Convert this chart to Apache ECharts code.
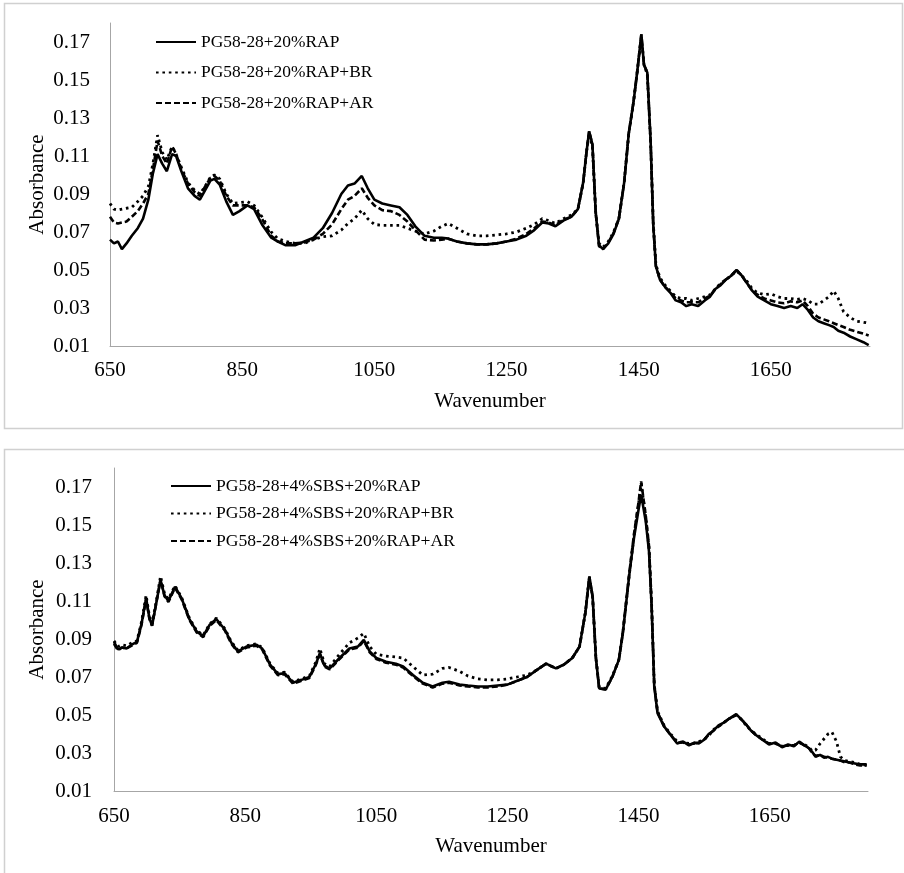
<!DOCTYPE html>
<html>
<head>
<meta charset="utf-8">
<script src="https://cdn.jsdelivr.net/npm/echarts@6/dist/echarts.min.js"></script>
<style>
  html, body { margin: 0; padding: 0; background: #fff; }
  #main { width: 904px; height: 873px; }
</style>
</head>
<body>
<div id="main"></div>
<script>
// top panel: PG58-28 + 20% RAP
var topWave = [
  650, 656, 662, 668, 675, 683, 692, 700, 708, 715,
  722, 729, 736, 744, 750, 758, 768, 778, 786, 794,
  802, 808, 816, 826, 836, 846, 858, 868, 880, 894,
  904, 916, 930, 944, 958, 972, 986, 1000, 1010, 1020,
  1031, 1040, 1050, 1062, 1075, 1088, 1100, 1112, 1126, 1140,
  1152, 1162, 1175, 1190, 1205, 1220, 1235, 1250, 1265, 1280,
  1292, 1304, 1314, 1324, 1336, 1348, 1358, 1366, 1371, 1375,
  1380, 1385, 1390, 1396, 1404, 1412, 1420, 1428, 1435, 1442,
  1448, 1454, 1458, 1463, 1468, 1472, 1476, 1482, 1490, 1498,
  1506, 1514, 1522, 1530, 1540, 1550, 1558, 1566, 1574, 1582,
  1590, 1598, 1606, 1614, 1622, 1630, 1640, 1650, 1660, 1670,
  1680, 1690, 1698, 1706, 1714, 1722, 1730, 1738, 1745, 1752,
  1760, 1770, 1780, 1790, 1798
];
var topRap = [
  .066,.064,.065,.061,.064,.068,.072,.077,.087,.101,
  .111,.106,.102,.111,.110,.102,.093,.089,.087,.092,
  .097,.098,.095,.086,.079,.081,.084,.082,.074,.067,
  .065,.063,.063,.065,.067,.072,.080,.090,.0945,.0955,
  .0995,.093,.087,.085,.084,.083,.079,.073,.068,.067,
  .067,.0665,.065,.064,.0635,.0635,.064,.065,.066,.068,
  .071,.075,.0745,.073,.076,.078,.082,.096,.112,.123,
  .116,.080,.063,.061,.064,.069,.077,.096,.122,.138,
  .155,.174,.158,.154,.118,.074,.052,.045,.041,.038,
  .034,.033,.031,.032,.031,.034,.036,.040,.042,.045,
  .047,.050,.047,.043,.039,.036,.034,.032,.031,.030,
  .031,.030,.032,.029,.025,.023,.022,.021,.020,.018,
  .017,.015,.0135,.012,.0105
];
var topRapBR = [
  .085,.082,.0815,.082,.0825,.083,.086,.089,.094,.106,
  .121,.112,.108,.115,.111,.104,.096,.092,.090,.094,
  .099,.100,.098,.090,.085,.0855,.086,.084,.078,.070,
  .0665,.065,.064,.064,.066,.0675,.068,.071,.0745,.077,
  .0815,.077,.074,.0735,.0735,.0735,.072,.0705,.069,.0705,
  .073,.0745,.072,.069,.068,.068,.0685,.069,.070,.072,
  .074,.077,.076,.0745,.077,.079,.082,.096,.112,.122,
  .115,.080,.064,.062,.065,.070,.077,.096,.122,.138,
  .155,.173,.158,.153,.118,.075,.053,.046,.042,.039,
  .036,.035,.035,.034,.035,.036,.037,.040,.043,.045,
  .047,.0495,.047,.044,.040,.038,.037,.0375,.036,.035,
  .035,.0345,.035,.034,.032,.032,.034,.036,.039,.035,
  .028,.025,.023,.0225,.022
];
var topRapAR = [
  .078,.075,.0745,.075,.0755,.078,.081,.085,.090,.103,
  .118,.110,.106,.115,.111,.103,.0955,.091,.089,.094,
  .0985,.0995,.097,.089,.084,.084,.084,.083,.077,.068,
  .065,.064,.064,.0645,.066,.069,.074,.082,.087,.089,
  .093,.088,.084,.0815,.081,.079,.0755,.071,.066,.0655,
  .066,.0665,.065,.064,.0635,.0635,.064,.065,.0665,.069,
  .072,.0755,.075,.0735,.0765,.078,.082,.096,.112,.123,
  .116,.080,.0625,.061,.0645,.0695,.077,.096,.122,.138,
  .155,.174,.158,.154,.118,.074,.052,.045,.041,.0385,
  .035,.034,.033,.033,.033,.035,.0365,.040,.0425,.045,
  .047,.050,.047,.043,.039,.037,.035,.034,.033,.0325,
  .0335,.033,.034,.031,.027,.025,.024,.023,.022,.021,
  .020,.0185,.0175,.0165,.0155
];

// bottom panel: PG58-28 + 4% SBS + 20% RAP
var botWave = [
  650, 656, 662, 669, 677, 685, 692, 699, 704, 708,
  714, 721, 727, 733, 743, 753, 765, 776, 786, 796,
  806, 819, 829, 839, 852, 867, 876, 888, 900, 910,
  923, 936, 948, 958, 964, 971, 979, 994, 1009, 1022,
  1031, 1040, 1050, 1065, 1080, 1091, 1106, 1121, 1136, 1151,
  1161, 1177, 1190, 1205, 1220, 1235, 1250, 1265, 1280, 1294,
  1309, 1324, 1336, 1349, 1360, 1369, 1375, 1380, 1385, 1390,
  1400, 1410, 1420, 1426, 1436, 1443, 1450, 1454, 1461, 1466,
  1470, 1474, 1479, 1489, 1499, 1509, 1518, 1527, 1535, 1542,
  1550, 1557, 1565, 1572, 1580, 1588, 1599, 1606, 1613, 1621,
  1629, 1639, 1649, 1659, 1669, 1678, 1687, 1695, 1703, 1710,
  1715, 1720, 1727, 1733, 1739, 1745, 1752, 1758, 1765, 1772,
  1780, 1788, 1798
];
var botSbs = [
  .0885,.0845,.0855,.085,.087,.0885,.098,.1115,.101,.097,
  .108,.121,.113,.110,.1175,.1115,.1005,.094,.0915,.0975,
  .1005,.095,.088,.0835,.086,.087,.085,.0765,.0715,.072,
  .067,.0685,.070,.077,.0825,.076,.0745,.080,.085,.086,
  .0895,.0835,.080,.078,.077,.0755,.071,.067,.065,.067,
  .0675,.066,.0655,.065,.065,.0655,.066,.068,.070,.0735,
  .077,.0745,.0765,.080,.086,.104,.123,.1125,.080,.064,
  .0635,.070,.079,.093,.124,.143,.158,.166,.152,.136,
  .107,.065,.051,.044,.0395,.035,.036,.034,.0355,.035,
  .037,.040,.042,.0445,.046,.048,.0505,.048,.0455,.042,
  .0395,.037,.0345,.0355,.033,.0345,.0335,.036,.034,.0325,
  .0305,.028,.029,.0275,.028,.027,.0265,.026,.0255,.025,
  .0245,.024,.024
];
var botSbsBR = [
  .089,.086,.087,.0865,.088,.089,.099,.113,.102,.098,
  .109,.123,.114,.111,.118,.112,.101,.0945,.092,.098,
  .101,.0955,.0885,.084,.0865,.0875,.0855,.077,.072,.0725,
  .0675,.069,.0705,.078,.085,.077,.0755,.082,.088,.0905,
  .093,.086,.082,.081,.0805,.080,.0755,.071,.0715,.0745,
  .075,.073,.0705,.069,.0685,.0685,.069,.070,.071,.0735,
  .077,.0745,.0765,.080,.086,.104,.1225,.112,.080,.0645,
  .064,.0705,.079,.093,.124,.144,.161,.172,.154,.138,
  .108,.066,.052,.0445,.040,.036,.0355,.035,.035,.036,
  .037,.039,.0425,.044,.046,.048,.050,.048,.045,.042,
  .040,.0375,.035,.035,.0335,.034,.034,.0355,.0345,.033,
  .031,.0315,.035,.0375,.040,.041,.036,.028,.026,.0255,
  .025,.024,.0235
];
var botSbsAR = [
  .0875,.084,.0855,.085,.0865,.088,.0975,.111,.1005,.097,
  .108,.1215,.1125,.1095,.117,.111,.100,.0935,.091,.097,
  .100,.0945,.0875,.083,.0855,.0865,.0845,.076,.071,.0715,
  .0665,.068,.0695,.0765,.082,.0755,.074,.0795,.0845,.0855,
  .089,.083,.0795,.0775,.0765,.075,.0705,.0665,.0645,.0665,
  .067,.0655,.065,.0645,.0645,.065,.066,.068,.070,.0735,
  .077,.0745,.0765,.080,.086,.104,.1225,.112,.080,.064,
  .0635,.070,.079,.093,.125,.145,.162,.173,.155,.139,
  .108,.066,.0515,.044,.0395,.0355,.0355,.0345,.035,.0355,
  .037,.0395,.042,.044,.046,.048,.050,.048,.0455,.042,
  .0395,.037,.035,.035,.0335,.034,.034,.0355,.034,.0325,
  .030,.0285,.029,.028,.0275,.027,.0265,.026,.025,.025,
  .024,.0235,.0235
];

var topNames = ['PG58-28+20%RAP', 'PG58-28+20%RAP+BR', 'PG58-28+20%RAP+AR'];
var botNames = ['PG58-28+4%SBS+20%RAP', 'PG58-28+4%SBS+20%RAP+BR', 'PG58-28+4%SBS+20%RAP+AR'];
var xTicks = [650, 850, 1050, 1250, 1450, 1650];
var yTicks = ['0.01', '0.03', '0.05', '0.07', '0.09', '0.11', '0.13', '0.15', '0.17'];

var serif = 'Liberation Serif, Times New Roman, serif';
var lineTypes = ['solid', [2.6, 3.8], [6, 3]];

function pairs(xs, ys) {
    return xs.map(function (x, i) { return [x, ys[i]]; });
}

function xAxisOf(idx, gap, margin) {
    return {
        type: 'value', gridIndex: idx,
        min: 650, max: 1800, interval: 50,
        name: 'Wavenumber', nameLocation: 'middle', nameGap: gap,
        nameMoveOverlap: false,
        nameTextStyle: { fontFamily: serif, fontSize: 21, color: '#000' },
        axisLine: { show: true, lineStyle: { color: '#a6a6a6', width: 1 } },
        axisTick: { show: false },
        splitLine: { show: false },
        axisLabel: {
            margin: margin, fontFamily: serif, fontSize: 21, color: '#000',
            formatter: function (v) {
                return xTicks.indexOf(Math.round(v)) > -1 ? String(Math.round(v)) : '';
            }
        }
    };
}

function yAxisOf(idx, gap, margin) {
    return {
        type: 'value', gridIndex: idx,
        min: 0.01, max: 0.18, interval: 0.01,
        name: 'Absorbance', nameLocation: 'middle', nameGap: gap,
        nameMoveOverlap: false,
        nameTextStyle: { fontFamily: serif, fontSize: 21, color: '#000' },
        axisLine: { show: true, lineStyle: { color: '#a6a6a6', width: 1 } },
        axisTick: { show: false },
        splitLine: { show: false },
        axisLabel: {
            margin: margin, fontFamily: serif, fontSize: 21, color: '#000',
            formatter: function (v) {
                var s = v.toFixed(2);
                return yTicks.indexOf(s) > -1 ? s : '';
            }
        }
    };
}

function lineSeries(name, idx, data, k) {
    return {
        name: name, type: 'line',
        xAxisIndex: idx, yAxisIndex: idx,
        data: data, showSymbol: false, symbol: 'none',
        lineStyle: { color: '#000', width: k === 1 ? 2.8 : 2.6, type: lineTypes[k] },
        itemStyle: { color: '#000' }
    };
}

function legendOf(names, left, top, gap, size) {
    return {
        data: names, orient: 'vertical', left: left, top: top,
        itemWidth: 40, itemHeight: 14, itemGap: gap,
        itemStyle: { opacity: 0, borderWidth: 0 },
        lineStyle: { opacity: 1 },
        textStyle: { fontFamily: serif, fontSize: size, lineHeight: 18, color: '#000' }
    };
}

var chart = echarts.init(document.getElementById('main'));

var option = {
    animation: false,
    backgroundColor: '#fff',
    graphic: [
        { type: 'rect', shape: { x: 4.5, y: 3.5, width: 898, height: 425 },
          style: { fill: 'none', stroke: '#d0d0d0', lineWidth: 1.5 }, z: -1 },
        { type: 'rect', shape: { x: 4.5, y: 449.5, width: 910, height: 440 },
          style: { fill: 'none', stroke: '#d0d0d0', lineWidth: 1.5 }, z: -1 }
    ],
    grid: [
        { left: 110, top: 23, width: 760, height: 323 },
        { left: 114, top: 468, width: 754, height: 323 }
    ],
    legend: [
        legendOf(topNames, 150, 28, 12.5, 17.4),
        legendOf(botNames, 165, 472, 9.5, 17.6)
    ],
    xAxis: [xAxisOf(0, 45, 14), xAxisOf(1, 45, 15)],
    yAxis: [yAxisOf(0, 62, 20), yAxisOf(1, 66, 22)],
    series: [
        lineSeries(topNames[0], 0, pairs(topWave, topRap), 0),
        lineSeries(topNames[1], 0, pairs(topWave, topRapBR), 1),
        lineSeries(topNames[2], 0, pairs(topWave, topRapAR), 2),
        lineSeries(botNames[0], 1, pairs(botWave, botSbs), 0),
        lineSeries(botNames[1], 1, pairs(botWave, botSbsBR), 1),
        lineSeries(botNames[2], 1, pairs(botWave, botSbsAR), 2)
    ]
};

chart.setOption(option);

window.addEventListener('resize', function () {
    chart.resize();
});
</script>
</body>
</html>
